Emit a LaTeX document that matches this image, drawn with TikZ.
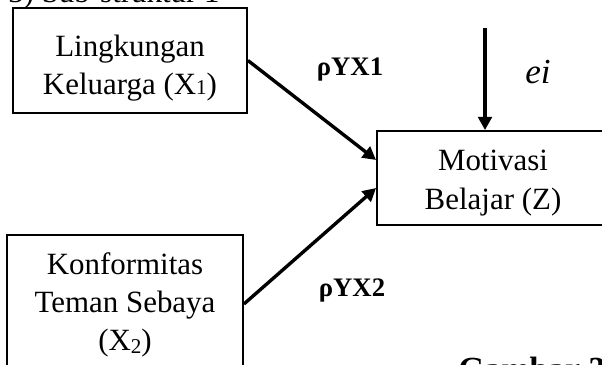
\documentclass[tikz,border=0pt]{standalone}
\usepackage{fontspec}
\setmainfont{Liberation Serif}
\usetikzlibrary{arrows.meta}
\begin{document}
\begin{tikzpicture}[x=0.025cm, y=-0.025cm,
  box/.style={draw, line width=1.3pt, inner sep=0pt},
  boxtext/.style={align=center, inner sep=0pt, font=\fontsize{22}{27.3}\selectfont},
  coef/.style={inner sep=0pt, font=\fontsize{19}{22}\selectfont\bfseries},
  conn/.style={line width=2.4pt, -{Triangle[length=0.33cm,width=0.34cm]}}]
  \useasboundingbox (0,0) rectangle (602,365);

  % heading lines cut by the page edge
  \node[anchor=base west, inner sep=0pt, font=\fontsize{22}{26}\selectfont] (head) at (8,3) {3) Sub-struktur 1};
  \node[anchor=base west, inner sep=0pt, font=\fontsize{24}{28}\selectfont\bfseries] (cap) at (458,380) {Gambar 3};

  % variable boxes
  \node[box, minimum width=5.85cm, minimum height=2.625cm] (x1) at (130,60.5) {};
  \node[box, minimum width=5.9cm, minimum height=3.45cm] (x2) at (125,304) {};
  \node[box, minimum width=5.8cm, minimum height=2.35cm] (z) at (493,178) {};

  \node[boxtext] (tx1) at (130,68) {Lingkungan\\Keluarga (X{\fontsize{15}{15}\selectfont 1})};
  \node[boxtext] (tx2) at (125,305) {Konformitas\\Teman Sebaya\\(X\raisebox{-2pt}{\fontsize{15}{15}\selectfont 2})};
  \node[boxtext] (tz) at (493,183) {Motivasi\\Belajar (Z)};

  % path coefficients and residual
  \node[coef] (p1) at (350,70) {ρYX1};
  \node[coef] (p2) at (352,290) {ρYX2};
  \node[inner sep=0pt, font=\fontsize{25}{28}\selectfont\itshape] (ei) at (538,72) {ei};
  \coordinate (etop) at (485,28);

  % arrows
  \draw[conn] (x1.east) -- ([yshift=0.45cm]z.west);
  \draw[conn] (x2.east) -- ([yshift=-0.25cm]z.west);
  \draw[conn] (etop) -- (etop |- z.north);
\end{tikzpicture}
\end{document}
